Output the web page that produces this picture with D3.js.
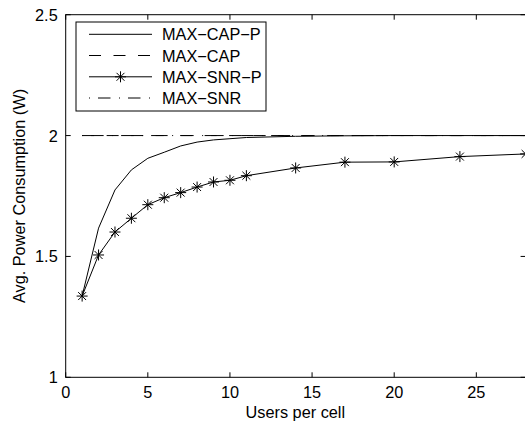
<!DOCTYPE html>
<html>
<head>
<meta charset="utf-8">
<script src="https://cdn.jsdelivr.net/npm/d3@7"></script>
<style>
  html, body { margin: 0; padding: 0; background: #fff; }
  svg { display: block; font-family: 'Liberation Sans', Arial, sans-serif; }
</style>
</head>
<body>
<div id="chart"></div>
<script>
// Users per cell (x) and avg. power consumption in W (y)
const usersCapP = [1, 2, 3, 4, 5, 6, 7, 8, 9, 10, 11, 14, 17, 20, 24, 28];
const maxCapP = [1.336, 1.617, 1.775, 1.858, 1.906, 1.931, 1.957, 1.973, 1.982, 1.987, 1.992, 1.997, 1.999, 2.0, 2.0, 2.0];
const usersSnrP = [1, 2, 3, 4, 5, 6, 7, 8, 9, 10, 11, 14, 17, 20, 24, 28];
const maxSnrP = [1.336, 1.506, 1.601, 1.658, 1.714, 1.743, 1.764, 1.787, 1.808, 1.815, 1.834, 1.866, 1.890, 1.891, 1.913, 1.924];
const usersFlat = [1, 28];
const maxCap = [2.0, 2.0];
const maxSnr = [2.0, 2.0];

const xTicks = [0, 5, 10, 15, 20, 25];
const yTicks = [1, 1.5, 2, 2.5];
const legendLabels = ['MAX\u2212CAP\u2212P', 'MAX\u2212CAP', 'MAX\u2212SNR\u2212P', 'MAX\u2212SNR'];

const W = 525, H = 424;
const plotLeft = 65.7, plotRight = 525.6, plotTop = 14.7, plotBottom = 377.3;
const fontSize = 16.3;

const svg = d3.select('#chart').append('svg')
  .attr('width', W).attr('height', H);

const x = d3.scaleLinear().domain([0, 28]).range([plotLeft, plotRight]);
const y = d3.scaleLinear().domain([1, 2.5]).range([plotBottom, plotTop]);

const line = d3.line().x((d) => x(d[0])).y((d) => y(d[1]));
const zip = (xs, ys) => xs.map((v, i) => [v, ys[i]]);

// data lines
const series = [
  { pts: zip(usersCapP, maxCapP), dash: null },
  { pts: zip(usersFlat, maxCap), dash: '12,12.5' },
  { pts: zip(usersSnrP, maxSnrP), dash: null, star: true },
  { pts: zip(usersFlat, maxSnr), dash: '1,8,12.5,8.5' }
];

const plot = svg.append('g');
series.forEach((s) => {
  plot.append('path')
    .attr('d', line(s.pts))
    .attr('fill', 'none')
    .attr('stroke', '#000')
    .attr('stroke-width', 1)
    .attr('stroke-dasharray', s.dash);
});

function star(g, cx, cy) {
  const r = 5.5, d = r * 0.72;
  g.append('path')
    .attr('d', `M${cx - r},${cy}H${cx + r}M${cx},${cy - r}V${cy + r}` +
      `M${cx - d},${cy - d}L${cx + d},${cy + d}M${cx - d},${cy + d}L${cx + d},${cy - d}`)
    .attr('stroke', '#000')
    .attr('stroke-width', 1)
    .attr('fill', 'none');
}
series[2].pts.forEach((p) => star(plot, x(p[0]), y(p[1])));

// axes (MATLAB style box with inward ticks)
const axis = svg.append('g').attr('stroke', '#000').attr('stroke-width', 1).attr('fill', 'none');
axis.append('rect')
  .attr('x', plotLeft).attr('y', plotTop)
  .attr('width', plotRight - plotLeft).attr('height', plotBottom - plotTop);

const tl = 5;
xTicks.forEach((t) => {
  axis.append('line').attr('x1', x(t)).attr('x2', x(t)).attr('y1', plotBottom).attr('y2', plotBottom - tl);
  axis.append('line').attr('x1', x(t)).attr('x2', x(t)).attr('y1', plotTop).attr('y2', plotTop + tl);
});
yTicks.forEach((t) => {
  axis.append('line').attr('x1', plotLeft).attr('x2', plotLeft + tl).attr('y1', y(t)).attr('y2', y(t));
  axis.append('line').attr('x1', plotRight).attr('x2', plotRight - tl).attr('y1', y(t)).attr('y2', y(t));
});

const labels = svg.append('g').attr('font-size', fontSize).attr('fill', '#000');
labels.selectAll('.xt').data(xTicks).join('text')
  .attr('x', (d) => x(d)).attr('y', plotBottom + 21)
  .attr('text-anchor', 'middle')
  .text((d) => d);
labels.selectAll('.yt').data(yTicks).join('text')
  .attr('x', plotLeft - 8).attr('y', (d) => y(d) + 6)
  .attr('text-anchor', 'end')
  .text((d) => d);

labels.append('text')
  .attr('x', (plotLeft + 525) / 2).attr('y', plotBottom + 41)
  .attr('text-anchor', 'middle')
  .text('Users per cell');
labels.append('text')
  .attr('transform', `translate(25,${(plotTop + plotBottom) / 2}) rotate(-90)`)
  .attr('text-anchor', 'middle')
  .text('Avg. Power Consumption (W)');

// legend
const lg = svg.append('g');
lg.append('rect')
  .attr('x', 76).attr('y', 22).attr('width', 190).attr('height', 89)
  .attr('fill', '#fff').attr('stroke', '#000').attr('stroke-width', 1);
const rowY = [34.3, 55.5, 76.8, 98];
series.forEach((s, i) => {
  lg.append('line')
    .attr('x1', 89).attr('x2', 152).attr('y1', rowY[i]).attr('y2', rowY[i])
    .attr('stroke', '#000').attr('stroke-width', 1)
    .attr('stroke-dasharray', s.dash);
  if (s.star) star(lg, 120.5, rowY[i]);
  lg.append('text')
    .attr('x', 162).attr('y', rowY[i] + 6)
    .attr('font-size', fontSize)
    .text(legendLabels[i]);
});
</script>
</body>
</html>
